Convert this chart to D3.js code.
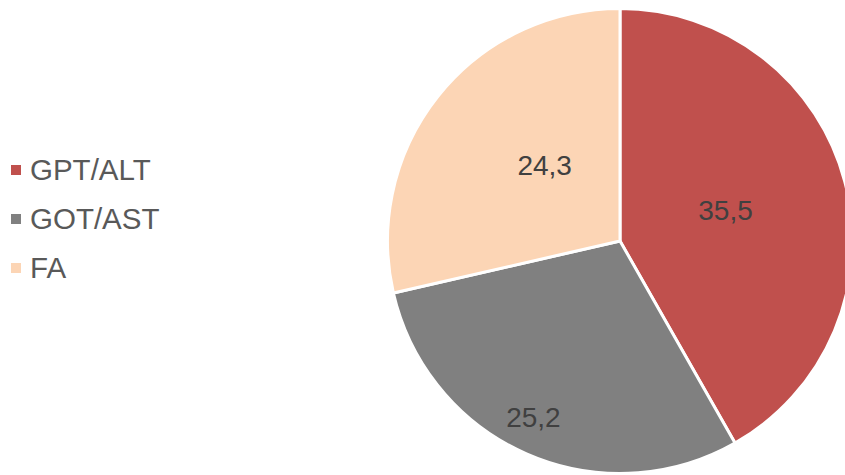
<!DOCTYPE html>
<html>
<head>
<meta charset="utf-8">
<script src="https://cdn.jsdelivr.net/npm/d3@7/dist/d3.min.js"></script>
<style>
  html, body { margin: 0; padding: 0; background: #fff; }
  svg { display: block; }
</style>
</head>
<body>
<svg id="chart" width="845" height="475"></svg>
<script>
const categories = ["GPT/ALT", "GOT/AST", "FA"];
const values = [35.5, 25.2, 24.3];
const valueLabels = ["35,5", "25,2", "24,3"];
const colors = ["#C0504D", "#808080", "#FCD5B5"];

const svg = d3.select("#chart");
const cx = 620, cy = 241, R = 232.5;

const pie = d3.pie().sort(null).value(d => d.value);
const data = categories.map((c, i) => ({ name: c, value: values[i], label: valueLabels[i], color: colors[i] }));
const arcs = pie(data);

const arc = d3.arc().innerRadius(0).outerRadius(R);

const g = svg.append("g").attr("transform", `translate(${cx},${cy})`);

g.selectAll("path.slice")
  .data(arcs)
  .enter().append("path")
  .attr("class", "slice")
  .attr("d", arc)
  .attr("fill", d => d.data.color)
  .attr("stroke", "#fff")
  .attr("stroke-width", 3)
  .attr("stroke-linejoin", "round");

// label placement (Excel best-fit style): radius and angular nudge per slice
const labelRadius = [110, 196, 107];
const labelAngleShift = [-1.6, 2.5, 6.7]; // degrees
g.selectAll("text.val")
  .data(arcs)
  .enter().append("text")
  .attr("class", "val")
  .attr("transform", (d, i) => {
    const a = (d.startAngle + d.endAngle) / 2 + labelAngleShift[i] * Math.PI / 180;
    const r = labelRadius[i];
    return `translate(${r * Math.sin(a)},${-r * Math.cos(a)})`;
  })
  .attr("text-anchor", "middle")
  .attr("dy", "0.35em")
  .attr("font-family", "'Liberation Sans', Arial, sans-serif")
  .attr("font-size", 28)
  .attr("fill", "#404040")
  .text(d => d.data.label);

// legend
const legend = svg.append("g");
const legendY = [170, 219, 268];
const items = legend.selectAll("g.item")
  .data(data)
  .enter().append("g")
  .attr("class", "item")
  .attr("transform", (d, i) => `translate(11,${legendY[i]})`);
items.append("rect")
  .attr("x", 0).attr("y", -5)
  .attr("width", 10).attr("height", 10)
  .attr("fill", d => d.color);
items.append("text")
  .attr("x", 19)
  .attr("y", 0)
  .attr("dy", "0.35em")
  .attr("font-family", "'Liberation Sans', Arial, sans-serif")
  .attr("font-size", 29.5)
  .attr("fill", "#595959")
  .text(d => d.name);
</script>
</body>
</html>
